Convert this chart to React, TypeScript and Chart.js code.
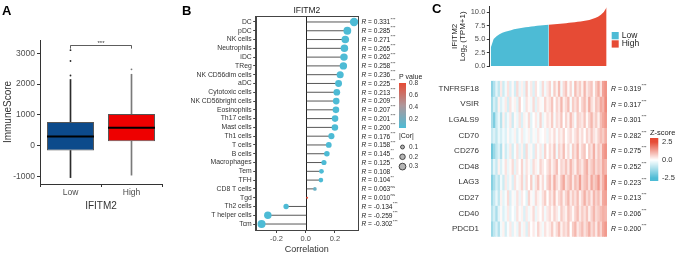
import React, { useEffect, useRef } from "react";
import { Chart, registerables } from "chart.js";
Chart.register(...registerables);

const FONT = "'Liberation Sans', Arial, Helvetica, sans-serif";
const BLUE = "#4DBBD5";
const RED = "#E64B35";

// ---------- Panel A: box plot ----------
const boxGroups = ["Low", "High"];
const boxQ1 = [-150, 150];
const boxMedian = [300, 590];
const boxQ3 = [770, 1030];
const whiskerMin = [-1030, -950];
const whiskerMax = [2150, 2320];
const outliersLow = [2280, 2750, 3100];
const outliersHigh = [2480];
const boxFill = ["#0C4A8B", "#EE0000"];
const whiskerColor = ["#2b2b2b", "#7a7a7a"];
const yTicksA = [-1000, 0, 1000, 2000, 3000];

// ---------- Panel B: lollipop ----------
const cellTypes = ["DC", "pDC", "NK cells", "Neutrophils", "iDC", "TReg", "NK CD56dim cells", "aDC", "Cytotoxic cells", "NK CD56bright cells", "Eosinophils", "Th17 cells", "Mast cells", "Th1 cells", "T cells", "B cells", "Macrophages", "Tem", "TFH", "CD8 T cells", "Tgd", "Th2 cells", "T helper cells", "Tcm"];
const cors = [0.331, 0.285, 0.271, 0.265, 0.262, 0.258, 0.236, 0.225, 0.213, 0.209, 0.207, 0.201, 0.200, 0.176, 0.158, 0.145, 0.125, 0.108, 0.104, 0.063, 0.010, -0.134, -0.259, -0.302];
const corStars = ["***", "***", "***", "***", "***", "***", "***", "***", "***", "***", "***", "***", "***", "***", "***", "**", "**", "*", "**", "ns", "ns", "***", "***", "***"];
const pValues = [0, 0, 0, 0, 0, 0, 0, 0, 0, 0, 0, 0, 0, 0, 0, 0.002, 0.006, 0.016, 0.02, 0.16, 0.82, 0.003, 0, 0];
const xTicksB = [-0.2, 0, 0.2];
const pLegendTicks = [0.8, 0.6, 0.4, 0.2];
const corLegend = [0.1, 0.2, 0.3];

// ---------- Panel C: expression + heatmap ----------
const exprSorted = [3.4, 5.0, 5.5, 5.9, 6.15, 6.35, 6.5, 6.65, 6.8, 6.9, 7.0, 7.1, 7.18, 7.25, 7.32, 7.38, 7.45, 7.5, 7.55, 7.6, 7.65, 7.7, 7.75, 7.8, 7.85, 7.9, 7.95, 8.0, 8.06, 8.12, 8.2, 8.27, 8.35, 8.45, 8.55, 8.7, 8.9, 9.15, 9.5, 10.0, 10.9];
const splitIndex = 20;
const yTicksC = [0, 2.5, 5, 7.5, 10];
const genes = ["TNFRSF18", "VSIR", "LGALS9", "CD70", "CD276", "CD48", "LAG3", "CD27", "CD40", "PDCD1"];
const geneR = [0.319, 0.317, 0.301, 0.282, 0.275, 0.252, 0.223, 0.213, 0.206, 0.200];
const zTNFRSF18 = [-1.6, -1.1, -0.4, -0.9, 0.3, -0.7, -0.2, 0.4, -0.5, 0.1, -0.6, 0.5, -0.3, 0.2, -0.4, 0.6, -0.1, 0.3, -0.5, 0.4, 0.0, -0.3, 0.5, -0.2, 0.3, 0.6, -0.1, 0.7, 0.2, 0.9, -0.2, 0.5, 0.8, 0.1, 0.6, -0.1, 0.9, 0.4, 0.7, 0.2, 1.0, 0.3, 0.6, 0.8, 0.1, 0.7, 1.1, 0.4, 1.3, 1.5];
const zVSIR = [-1.3, -0.6, -1.0, 0.2, -0.5, -0.2, 0.3, -0.6, 0.4, -0.1, 0.2, -0.4, 0.6, 0.0, -0.3, 0.4, 0.1, -0.2, 0.5, -0.4, 0.3, 0.1, -0.1, 0.6, 0.2, 0.4, 0.8, 0.0, 0.6, 0.3, 1.0, 0.2, 0.5, 0.9, -0.1, 0.7, 0.4, 0.8, 0.1, 0.6, 0.9, 0.3, 1.1, 0.5, 0.2, 0.8, 0.6, 1.2, 1.0, 1.6];
const zLGALS9 = [-1.2, -1.8, -0.8, -0.3, -1.0, 0.2, -0.6, -0.2, 0.3, -0.7, 0.1, -0.3, 0.4, -0.5, 0.2, -0.1, 0.5, -0.4, 0.0, 0.3, -0.2, 0.6, -0.3, 0.1, 0.4, 0.2, 0.7, -0.1, 0.5, 0.3, 0.8, 0.0, 0.6, 0.2, 0.9, 0.4, -0.1, 0.7, 0.5, 0.3, 0.8, 0.1, 0.6, 1.0, 0.4, 0.7, 0.2, 0.9, 1.2, 1.4];
const zCD70 = [-0.8, -0.5, -0.9, -0.3, -0.6, -0.2, -0.5, 0.1, -0.4, -0.2, 0.2, -0.5, -0.1, 0.3, -0.3, -0.1, 0.2, -0.4, 0.1, -0.2, 0.3, -0.1, 0.0, 0.2, -0.3, 0.3, 0.1, 0.5, -0.1, 0.4, 0.2, 0.6, 0.0, 0.3, 0.5, 0.1, 0.4, 0.7, 0.2, 0.5, 0.0, 0.6, 0.3, 0.8, 0.4, 0.2, 0.6, 0.9, 0.7, 1.1];
const zCD276 = [-2.0, -1.4, -0.9, -0.5, -1.1, 0.1, -0.7, -0.3, 0.3, -0.6, -0.1, 0.4, -0.4, 0.2, -0.6, 0.5, -0.2, 0.1, -0.5, 0.4, -0.1, 0.3, -0.3, 0.6, 0.0, 0.5, 0.2, 0.8, -0.2, 0.6, 0.3, 0.9, 0.1, 0.5, -0.1, 0.7, 0.4, 1.0, 0.2, 0.6, 0.8, 0.0, 0.7, 0.4, 1.1, 0.3, 0.8, 0.5, 1.3, 1.5];
const zCD48 = [-1.1, -0.4, -0.8, 0.2, -0.5, -0.1, 0.4, -0.3, 0.1, 0.5, -0.4, 0.3, 0.0, 0.6, -0.2, 0.4, 0.1, -0.3, 0.5, 0.2, -0.1, 0.6, 0.3, 0.0, 0.4, 0.7, 0.2, 0.5, 0.9, 0.1, 0.6, 0.4, 0.8, 0.3, 1.0, 0.5, 0.2, 0.9, 0.6, 0.3, 0.8, 1.1, 0.4, 0.7, 1.0, 0.5, 0.8, 0.6, 1.2, 1.0];
const zLAG3 = [-1.7, -1.2, -0.6, -1.0, -0.2, -0.7, 0.3, -0.4, 0.1, -0.5, 0.4, -0.1, 0.2, 0.6, -0.3, 0.5, 0.0, 0.7, -0.2, 0.4, 0.8, 0.1, 0.5, -0.1, 0.6, 0.9, 0.3, 1.1, 0.5, 0.2, 0.8, 1.2, 0.4, 0.7, 1.0, 0.3, 0.9, 0.6, 1.3, 0.5, 0.8, 1.0, 0.4, 1.2, 0.7, 0.9, 1.4, 0.6, 1.1, 1.6];
const zCD27 = [-1.3, -0.8, -0.3, -0.9, 0.2, -0.4, -0.1, 0.5, -0.5, 0.1, -0.2, 0.4, -0.3, 0.3, 0.0, -0.4, 0.6, 0.1, -0.2, 0.5, 0.2, -0.1, 0.4, 0.7, 0.0, 0.6, 0.3, 0.9, 0.1, 0.5, 0.8, 0.2, 0.6, 1.0, 0.3, 0.7, 0.4, 0.9, 0.2, 0.6, 1.1, 0.5, 0.8, 0.3, 1.0, 0.6, 0.9, 0.4, 1.2, 1.3];
const zCD40 = [-1.0, -0.6, -1.2, -0.4, 0.1, -0.5, -0.2, 0.3, -0.4, 0.0, -0.3, 0.4, -0.1, 0.2, -0.5, 0.3, -0.2, 0.1, 0.5, -0.3, 0.2, 0.0, 0.4, -0.2, 0.3, 0.5, 0.1, 0.6, 0.3, -0.1, 0.7, 0.4, 0.2, 0.8, 0.5, 0.1, 0.6, 0.9, 0.3, 0.7, 0.4, 0.8, 0.2, 0.6, 1.0, 0.5, 0.7, 0.9, 1.1, 1.0];
const zPDCD1 = [-1.4, -0.9, -0.5, -1.1, -0.2, 0.2, -0.6, -0.1, 0.3, -0.4, 0.1, -0.3, 0.5, -0.2, 0.2, -0.5, 0.4, 0.0, 0.3, -0.1, 0.6, 0.2, -0.2, 0.4, 0.1, 0.3, 0.7, 0.1, 0.5, 0.9, 0.2, 0.6, 0.4, 0.8, 0.0, 0.7, 1.0, 0.3, 0.6, 0.9, 0.4, 0.7, 1.1, 0.5, 0.8, 0.3, 1.0, 0.6, 1.2, 1.4];
const zRows = [zTNFRSF18, zVSIR, zLGALS9, zCD70, zCD276, zCD48, zLAG3, zCD27, zCD40, zPDCD1];
const zLegendTicks = [2.5, 0, -2.5];

// ---------- helpers ----------
function hexToRgb(h: string) {
  const n = parseInt(h.slice(1), 16);
  return [(n >> 16) & 255, (n >> 8) & 255, n & 255];
}
function mix(a: string, b: string, t: number) {
  const A = hexToRgb(a), B = hexToRgb(b);
  return "rgb(" + A.map((v, i) => Math.round(v + (B[i] - v) * t)).join(",") + ")";
}
const clamp = (v: number, lo: number, hi: number) => Math.max(lo, Math.min(hi, v));
function zColor(z: number) {
  const t = clamp(z / 2.5, -1, 1);
  return t >= 0 ? mix("#FFFFFF", RED, t) : mix("#FFFFFF", BLUE, -t);
}
const P_GRAY = "#AE979B";
function pColor(p: number) {
  const t = clamp((p - 0.05) / 0.75, 0, 1);
  return t < 0.5 ? mix(BLUE, P_GRAY, t * 2) : mix(P_GRAY, RED, (t - 0.5) * 2);
}
const dotRadius = (c: number) => Math.max(1, 7.3 * Math.sqrt(Math.abs(c)));

function useChart(ref: React.RefObject<HTMLCanvasElement | null>, make: (c: HTMLCanvasElement) => Chart) {
  useEffect(() => {
    if (!ref.current) return;
    const ch = make(ref.current);
    return () => ch.destroy();
  }, []);
}

const baseOpts = {
  animation: false as const,
  responsive: false,
  maintainAspectRatio: false,
  devicePixelRatio: 1,
};

// ---------- Panel A ----------
function PanelA() {
  const ref = useRef<HTMLCanvasElement>(null);
  useChart(ref, (canvas) => {
    const extras = {
      id: "boxExtras",
      afterDatasetsDraw(chart: any) {
        const { ctx, scales: { x, y } } = chart;
        const meta = chart.getDatasetMeta(0);
        ctx.save();
        meta.data.forEach((bar: any, i: number) => {
          const { x: bx, width } = bar.getProps(["x", "width"], true);
          const my = y.getPixelForValue(boxMedian[i]);
          ctx.strokeStyle = "#000";
          ctx.lineWidth = 2;
          ctx.beginPath();
          ctx.moveTo(bx - width / 2, my);
          ctx.lineTo(bx + width / 2, my);
          ctx.stroke();
        });
        const outs = [outliersLow, outliersHigh];
        outs.forEach((arr, i) => {
          const cx = x.getPixelForValue(i);
          ctx.fillStyle = whiskerColor[i];
          arr.forEach((v) => {
            ctx.beginPath();
            ctx.arc(cx, y.getPixelForValue(v), 0.9, 0, Math.PI * 2);
            ctx.fill();
          });
        });
        // significance bracket
        const x0 = x.getPixelForValue(0), x1 = x.getPixelForValue(1);
        const yb = Math.round(y.getPixelForValue(3270)) + 0.5;
        const yt = y.getPixelForValue(3150);
        ctx.strokeStyle = "#333";
        ctx.lineWidth = 0.8;
        ctx.beginPath();
        ctx.moveTo(x0, yt);
        ctx.lineTo(x0, yb);
        ctx.lineTo(x1, yb);
        ctx.lineTo(x1, yt);
        ctx.stroke();
        ctx.fillStyle = "#333";
        ctx.font = `6px ${FONT}`;
        ctx.textAlign = "center";
        ctx.textBaseline = "bottom";
        ctx.fillText("***", (x0 + x1) / 2, yb + 0.5);
        ctx.restore();
      },
    };
    return new Chart(canvas, {
      type: "bar",
      data: {
        labels: boxGroups,
        datasets: [
          {
            data: boxGroups.map((_, i) => [boxQ1[i], boxQ3[i]]),
            backgroundColor: boxFill,
            borderColor: "#555",
            borderWidth: 1,
            borderSkipped: false,
            barPercentage: 0.77,
            categoryPercentage: 1,
            grouped: false,
          } as any,
          {
            data: boxGroups.map((_, i) => [boxQ3[i], whiskerMax[i]]),
            backgroundColor: whiskerColor,
            borderWidth: 0,
            barThickness: 1,
            grouped: false,
          } as any,
          {
            data: boxGroups.map((_, i) => [whiskerMin[i], boxQ1[i]]),
            backgroundColor: whiskerColor,
            borderWidth: 0,
            barThickness: 1,
            grouped: false,
          } as any,
        ],
      },
      options: {
        ...baseOpts,
        layout: { padding: { left: 0, right: 28, top: 40, bottom: 43 } },
        plugins: { legend: { display: false }, tooltip: { enabled: false } },
        scales: {
          x: {
            grid: { display: true, drawOnChartArea: false, drawTicks: true, tickLength: 3, color: "#333" },
            border: { display: true, color: "#333", width: 1 },
            ticks: { color: "#4d4d4d", font: { family: FONT, size: 8.5 }, padding: 1 },
            title: { display: true, text: "IFITM2", color: "#333", font: { family: FONT, size: 10 }, padding: { top: 1, bottom: 0 } },
            afterFit(s: any) { s.height = 28; },
          },
          y: {
            min: -1237,
            max: 3430,
            afterBuildTicks(s: any) { s.ticks = yTicksA.map((v) => ({ value: v })); },
            grid: { display: true, drawOnChartArea: false, drawTicks: true, tickLength: 3, color: "#333" },
            border: { display: true, color: "#333", width: 1 },
            ticks: { color: "#4d4d4d", font: { family: FONT, size: 8.5 }, padding: 2, callback: (v: any) => String(v) },
            title: { display: true, text: "ImmuneScore", color: "#333", font: { family: FONT, size: 10 }, padding: { top: 2, bottom: 0 } },
            afterFit(s: any) { s.width = 40; },
          },
        },
      } as any,
      plugins: [extras],
    });
  });
  return <canvas ref={ref} width={190} height={255} style={{ position: "absolute", left: 0, top: 0, width: 190, height: 255 }} />;
}

// ---------- Panel B ----------
function PanelB() {
  const ref = useRef<HTMLCanvasElement>(null);
  useChart(ref, (canvas) => {
    const extras = {
      id: "lolliExtras",
      beforeDatasetsDraw(chart: any) {
        const { ctx, chartArea: ca, scales: { x, y } } = chart;
        ctx.save();
        const zx = Math.round(x.getPixelForValue(0)) + 0.5;
        ctx.strokeStyle = "#222";
        ctx.lineWidth = 1;
        ctx.beginPath();
        ctx.moveTo(zx, ca.top);
        ctx.lineTo(zx, ca.bottom);
        ctx.stroke();
        ctx.strokeStyle = "#444";
        ctx.lineWidth = 0.9;
        cors.forEach((c, i) => {
          const py = y.getPixelForValue(i);
          ctx.beginPath();
          ctx.moveTo(zx, py);
          ctx.lineTo(x.getPixelForValue(c), py);
          ctx.stroke();
        });
        ctx.restore();
      },
      afterDraw(chart: any) {
        const { ctx, chartArea: ca, scales: { y } } = chart;
        ctx.save();
        ctx.strokeStyle = "#444";
        ctx.lineWidth = 1;
        ctx.strokeRect(Math.round(ca.left) + 0.5, Math.round(ca.top) + 0.5, Math.round(ca.right - ca.left), Math.round(ca.bottom - ca.top));
        ctx.fillStyle = "#222";
        ctx.font = `8.5px ${FONT}`;
        ctx.textAlign = "center";
        ctx.textBaseline = "bottom";
        ctx.fillText("IFITM2", (ca.left + ca.right) / 2, ca.top - 1);
        // R labels
        ctx.textAlign = "left";
        cors.forEach((c, i) => {
          const py = y.getPixelForValue(i) + 0.5;
          let px = ca.right + 3.5;
          ctx.textBaseline = "middle";
          ctx.fillStyle = "#222";
          ctx.font = `italic 6.6px ${FONT}`;
          ctx.fillText("R", px, py);
          px += ctx.measureText("R").width;
          const s = " = " + c.toFixed(3);
          ctx.font = `6.6px ${FONT}`;
          ctx.fillText(s, px, py);
          px += ctx.measureText(s).width;
          ctx.font = `4.2px ${FONT}`;
          ctx.fillText(corStars[i], px + 0.3, py - 3);
        });
        // P value legend
        const lx = ca.right + 41;
        ctx.font = `7px ${FONT}`;
        ctx.fillStyle = "#222";
        ctx.textBaseline = "middle";
        ctx.fillText("P value", lx, 77);
        const barTop = 83, barBot = 128;
        const pAt = (v: number) => barTop + ((0.8 - v) / 0.2) * 12;
        for (let yy = barTop; yy < barBot; yy++) {
          const v = 0.8 - ((yy + 0.5 - barTop) / 12) * 0.2;
          ctx.fillStyle = pColor(v);
          ctx.fillRect(lx, yy, 7, 1);
        }
        ctx.font = `6.5px ${FONT}`;
        ctx.fillStyle = "#333";
        pLegendTicks.forEach((v) => ctx.fillText(v.toFixed(1), lx + 10, pAt(v)));
        ctx.font = `7px ${FONT}`;
        ctx.fillStyle = "#222";
        ctx.fillText("|Cor|", lx, 136);
        corLegend.forEach((v, k) => {
          const cy = 147 + k * 9.8;
          ctx.beginPath();
          ctx.arc(lx + 3.5, cy, dotRadius(v) * 0.85, 0, Math.PI * 2);
          ctx.fillStyle = "#B5B5B5";
          ctx.fill();
          ctx.strokeStyle = "#222";
          ctx.lineWidth = 0.8;
          ctx.stroke();
          ctx.fillStyle = "#333";
          ctx.font = `6.5px ${FONT}`;
          ctx.fillText(v.toFixed(1), lx + 10, cy);
        });
        ctx.restore();
      },
    };
    return new Chart(canvas, {
      type: "scatter",
      data: {
        datasets: [
          {
            data: cors.map((c, i) => ({ x: c, y: i })),
            pointRadius: cors.map((c) => dotRadius(c)),
            pointBackgroundColor: pValues.map(pColor),
            pointBorderWidth: 0,
            pointHoverRadius: cors.map((c) => dotRadius(c)),
            clip: false,
          } as any,
        ],
      },
      options: {
        ...baseOpts,
        layout: { padding: { left: 0, right: 97, top: 16, bottom: 0 } },
        plugins: { legend: { display: false }, tooltip: { enabled: false } },
        scales: {
          x: {
            type: "linear",
            min: -0.342,
            max: 0.358,
            afterBuildTicks(s: any) { s.ticks = xTicksB.map((v) => ({ value: v })); },
            grid: { display: true, drawOnChartArea: false, drawTicks: true, tickLength: 3, color: "#444" },
            border: { display: true, color: "#444", width: 1 },
            ticks: { color: "#4d4d4d", font: { family: FONT, size: 7.5 }, padding: 1, callback: (v: any) => Number(v).toFixed(1) },
            title: { display: true, text: "Correlation", color: "#333", font: { family: FONT, size: 9 }, padding: { top: 0, bottom: 0 } },
            afterFit(s: any) { s.height = 25; },
          },
          y: {
            type: "linear",
            reverse: true,
            min: -0.68,
            max: 23.68,
            afterBuildTicks(s: any) { s.ticks = cellTypes.map((_, i) => ({ value: i })); },
            grid: { display: true, drawOnChartArea: false, drawTicks: true, tickLength: 2.5, color: "#444" },
            border: { display: true, color: "#444", width: 1 },
            ticks: { color: "#333", font: { family: FONT, size: 6.8 }, padding: 1.5, autoSkip: false, callback: (v: any) => cellTypes[Math.round(v)] ?? "" },
            afterFit(s: any) { s.width = 65.7; },
          },
        },
      } as any,
      plugins: [extras],
    });
  });
  return <canvas ref={ref} width={265} height={255} style={{ position: "absolute", left: 190, top: 0, width: 265, height: 255 }} />;
}

// ---------- Panel C top: sorted expression ----------
function PanelCTop() {
  const ref = useRef<HTMLCanvasElement>(null);
  useChart(ref, (canvas) => {
    const extras = {
      id: "areaExtras",
      afterDraw(chart: any) {
        const { ctx, chartArea: ca } = chart;
        ctx.save();
        const cy = (ca.top + ca.bottom) / 2;
        ctx.fillStyle = "#222";
        ctx.textAlign = "center";
        ctx.textBaseline = "middle";
        ctx.save();
        ctx.translate(15, cy);
        ctx.rotate(-Math.PI / 2);
        ctx.font = `8px ${FONT}`;
        ctx.fillText("IFITM2", 0, 0);
        ctx.restore();
        ctx.save();
        ctx.translate(22.5, cy);
        ctx.rotate(-Math.PI / 2);
        ctx.font = `8px ${FONT}`;
        const a = "Log", b = "2", c = " (TPM+1)";
        const wa = ctx.measureText(a).width;
        ctx.font = `5.5px ${FONT}`;
        const wb = ctx.measureText(b).width;
        ctx.font = `8px ${FONT}`;
        const wc = ctx.measureText(c).width;
        let px = -(wa + wb + wc) / 2;
        ctx.textAlign = "left";
        ctx.fillText(a, px, 0);
        px += wa;
        ctx.font = `5.5px ${FONT}`;
        ctx.fillText(b, px, 2.5);
        px += wb;
        ctx.font = `8px ${FONT}`;
        ctx.fillText(c, px, 0);
        ctx.restore();
        const lx = ca.right + 5;
        ctx.textAlign = "left";
        ctx.font = `8.5px ${FONT}`;
        [["Low", BLUE], ["High", RED]].forEach(([t, col], k) => {
          const ty = 32 + k * 8.3;
          ctx.fillStyle = col;
          ctx.fillRect(lx, ty, 7, 7.3);
          ctx.fillStyle = "#222";
          ctx.fillText(t, lx + 10, ty + 3.8);
        });
        ctx.restore();
      },
    };
    return new Chart(canvas, {
      type: "line",
      data: {
        datasets: [
          {
            data: exprSorted.slice(0, splitIndex + 1).map((v, i) => ({ x: i, y: v })),
            backgroundColor: BLUE,
            borderWidth: 0,
            pointRadius: 0,
            fill: "origin",
            tension: 0,
          },
          {
            data: exprSorted.slice(splitIndex).map((v, i) => ({ x: i + splitIndex, y: v })),
            backgroundColor: RED,
            borderWidth: 0,
            pointRadius: 0,
            fill: "origin",
            tension: 0,
          },
        ],
      },
      options: {
        ...baseOpts,
        layout: { padding: { left: 0, right: 69.3, top: 6.7, bottom: 1.3 } },
        plugins: { legend: { display: false }, tooltip: { enabled: false } },
        scales: {
          x: { type: "linear", min: -0.5, max: exprSorted.length - 1, display: false },
          y: {
            min: 0,
            max: 11,
            afterBuildTicks(s: any) { s.ticks = yTicksC.map((v) => ({ value: v })); },
            grid: { display: true, drawOnChartArea: false, drawTicks: true, tickLength: 2.5, color: "#333" },
            border: { display: true, color: "#333", width: 1 },
            ticks: { color: "#4d4d4d", font: { family: FONT, size: 7.5 }, padding: 1.5, callback: (v: any) => Number(v).toFixed(1) },
            afterFit(s: any) { s.width = 49.3; },
          },
        },
      } as any,
      plugins: [extras],
    });
  });
  return <canvas ref={ref} width={236} height={72} style={{ position: "absolute", left: 440, top: 0, width: 236, height: 72 }} />;
}

// ---------- Panel C heatmap ----------
const HEAT_LEFT = 425;
function PanelCHeat() {
  const ref = useRef<HTMLCanvasElement>(null);
  useChart(ref, (canvas) => {
    const nCols = zRows[0].length;
    const colLabels = Array.from({ length: nCols }, (_, i) => String(i + 1));
    const extras = {
      id: "heatExtras",
      afterDraw(chart: any) {
        const { ctx, chartArea: ca, scales: { y } } = chart;
        ctx.save();
        ctx.textAlign = "left";
        ctx.textBaseline = "middle";
        geneR.forEach((r, i) => {
          const py = y.getPixelForValue(i + 0.5) + 0.5;
          let px = ca.right + 4;
          ctx.fillStyle = "#222";
          ctx.font = `italic 6.9px ${FONT}`;
          ctx.fillText("R", px, py);
          px += ctx.measureText("R").width;
          const s = " = " + r.toFixed(3);
          ctx.font = `6.9px ${FONT}`;
          ctx.fillText(s, px, py);
          px += ctx.measureText(s).width;
          ctx.font = `4.3px ${FONT}`;
          ctx.fillText("***", px + 0.4, py - 3.2);
        });
        // Z-score legend
        const lx = 650 - HEAT_LEFT;
        ctx.font = `7.5px ${FONT}`;
        ctx.fillStyle = "#222";
        ctx.fillText("Z-score", lx, 61);
        const top = 66, bot = 109;
        for (let yy = top; yy < bot; yy++) {
          const z = 2.5 - ((yy + 0.5 - 70) / 36) * 5;
          ctx.fillStyle = zColor(z);
          ctx.fillRect(lx, yy, 8.3, 1);
        }
        ctx.font = `7.5px ${FONT}`;
        ctx.fillStyle = "#333";
        zLegendTicks.forEach((v) => ctx.fillText(v.toFixed(1), lx + 12, 70 + ((2.5 - v) / 5) * 36));
        ctx.restore();
      },
    };
    return new Chart(canvas, {
      type: "bar",
      data: {
        labels: colLabels,
        datasets: genes.map((g, r) => ({
          label: g,
          data: zRows[r].map(() => [r, r + 1]),
          backgroundColor: zRows[r].map(zColor),
          borderWidth: 0,
          barPercentage: 1,
          categoryPercentage: 1,
        })) as any,
      },
      options: {
        ...baseOpts,
        layout: { padding: { left: 0, right: 69, top: 1.3, bottom: 18.3 } },
        plugins: { legend: { display: false }, tooltip: { enabled: false } },
        scales: {
          x: { stacked: true, display: false, offset: true },
          y: {
            stacked: false,
            type: "linear",
            reverse: true,
            min: 0,
            max: genes.length,
            afterBuildTicks(s: any) { s.ticks = genes.map((_, i) => ({ value: i + 0.5 })); },
            grid: { display: false },
            border: { display: false },
            ticks: { color: "#333", font: { family: FONT, size: 8 }, padding: 4, autoSkip: false, callback: (v: any) => genes[Math.floor(v)] ?? "" },
            afterFit(s: any) { s.width = 491 - HEAT_LEFT; },
          },
        },
      } as any,
      plugins: [extras],
    });
  });
  return <canvas ref={ref} width={676 - HEAT_LEFT} height={183} style={{ position: "absolute", left: HEAT_LEFT, top: 72, width: 676 - HEAT_LEFT, height: 183 }} />;
}

const letterStyle: React.CSSProperties = {
  position: "absolute",
  fontFamily: FONT,
  fontWeight: "bold",
  fontSize: 13,
  lineHeight: "13px",
  color: "#000",
};

export default function App() {
  useEffect(() => {
    document.body.style.margin = "0";
  }, []);
  return (
    <div style={{ position: "fixed", left: 0, top: 0, width: 676, height: 255, background: "#fff", overflow: "hidden" }}>
      <PanelA />
      <PanelB />
      <PanelCHeat />
      <PanelCTop />
      <div style={{ ...letterStyle, left: 2, top: 4 }}>A</div>
      <div style={{ ...letterStyle, left: 182, top: 4 }}>B</div>
      <div style={{ ...letterStyle, left: 432, top: 2 }}>C</div>
    </div>
  );
}
